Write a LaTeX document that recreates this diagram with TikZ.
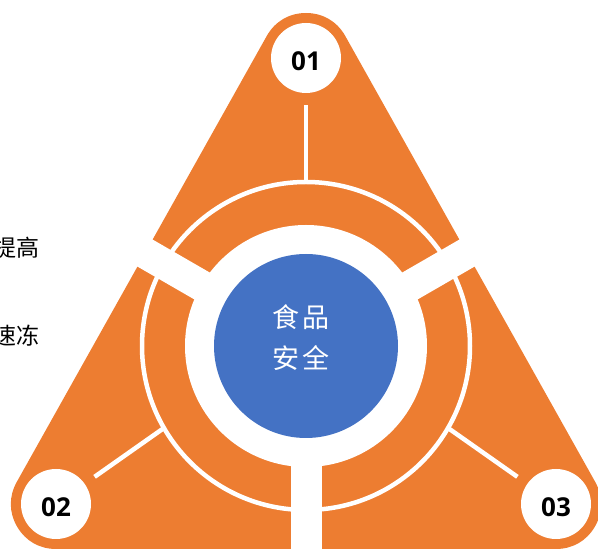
\documentclass[tikz,border=0pt]{standalone}
\usepackage{fontspec}
\newfontfamily\cjk{Noto Sans CJK SC}
\newfontfamily\numfont{Open Sans}
\definecolor{laranja}{HTML}{ED7D31}
\definecolor{azul}{HTML}{4472C4}

\begin{document}
\begin{tikzpicture}[x=1pt,y=1pt]

\useasboundingbox (0,0) rectangle (598,549);
\clip (0,0) rectangle (598,549);

\newcommand{\rarco}{164}
\newcommand{\rbranco}{121}
\newcommand{\razul}{92}

\tikzstyle{numero}=[circle,fill=white,minimum size=70pt,inner sep=0pt,font=\numfont\bfseries\fontsize{26}{26}\selectfont,text height=26pt,text depth=0pt]
\tikzstyle{faixa}=[white,line width=31pt]
\tikzstyle{ligacao}=[white,line width=4.5pt,shorten <=12pt]
\tikzstyle{texto}=[font=\cjk\fontsize{23}{23}\selectfont,anchor=east,inner sep=0pt]

\coordinate (O) at (306,203);
\coordinate (topo) at (306,491);
\coordinate (esq) at (56,45);
\coordinate (dir) at (556,45);

\filldraw[laranja,line width=90pt,line join=round] (topo) -- (esq) -- (dir) -- cycle;

\draw[white,line width=4.5pt] (O) circle ({\rarco});

\foreach \a in {30,150,270}
{
    \draw[faixa] (O) -- ++(\a:400);
}

\fill[white] (O) circle ({\rbranco});
\fill[azul] (O) circle ({\razul});

\node[numero] (n01) at (topo) {01};
\node[numero] (n02) at (esq) {02};
\node[numero] (n03) at (dir) {03};

\foreach \a/\n in {90/1,210/2,330/3}
{
    \path (O) ++(\a:\rarco) coordinate (a\n);
    \draw[ligacao] (n0\n) -- (a\n);
}

\node[text=white,align=center,font=\cjk\fontsize{27}{41}\selectfont] (centro) at (301,211) {食\hspace{3pt}品\\安\hspace{3pt}全};

\node[texto] (melhorar) at (40,301) {提高};
\node[texto] (congelar) at (40,213) {速冻};

\end{tikzpicture}
\end{document}
